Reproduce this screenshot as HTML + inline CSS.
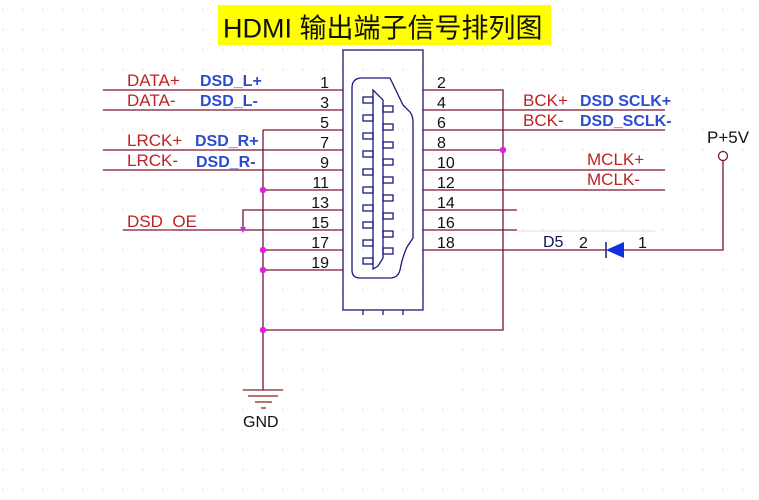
<!DOCTYPE html>
<html><head><meta charset="utf-8"><style>
html,body{margin:0;padding:0;background:#fff;}
svg{display:block;}
text{font-family:"Liberation Sans","Noto Sans CJK SC",sans-serif;}
.r{fill:#bf2222;font-size:17px;}
.b{fill:#2d4bd1;font-size:16px;font-weight:bold;}
.n{fill:#111;font-size:16px;}
.w{stroke:#7d1535;stroke-width:1.3;fill:none;}
.c{stroke:#1a1a7a;stroke-width:1.3;fill:none;}
</style></head><body>
<svg width="759" height="500" viewBox="0 0 759 500" xmlns="http://www.w3.org/2000/svg">
<defs>
<pattern id="g" x="2" y="9" width="20" height="20" patternUnits="userSpaceOnUse">
<rect x="0" y="0" width="1.5" height="1.5" fill="#e2e2e2"/>
</pattern>
</defs>
<rect width="759" height="500" fill="#fff"/>
<rect width="759" height="500" fill="url(#g)"/>
<rect x="330" y="330" width="130" height="75" fill="#fff"/>

<!-- title -->
<rect x="218" y="5" width="333" height="40" fill="#ffff00"/>
<text x="223" y="37.5" font-size="27" fill="#111">HDMI 输出端子信号排列图</text>

<!-- connector box -->
<rect x="343" y="50" width="80" height="260" fill="#fff" class="c"/>
<path class="c" d="M352,88 Q352,78 362,78 L390,78 L403,105 L410,112 Q413,116 413,122 L413,238 L407,247 Q402,258 400,270 Q398,278 390,278 L360,278 Q352,278 352,270 Z"/>
<path class="c" d="M373,269 L373,90 L383,100 L383,258 L378,266 Z"/>
<g class="c">
<rect x="363" y="97" width="10" height="6"/>
<rect x="363" y="115" width="10" height="6"/>
<rect x="363" y="133" width="10" height="6"/>
<rect x="363" y="151" width="10" height="6"/>
<rect x="363" y="169" width="10" height="6"/>
<rect x="363" y="187" width="10" height="6"/>
<rect x="363" y="205" width="10" height="6"/>
<rect x="363" y="222" width="10" height="6"/>
<rect x="363" y="240" width="10" height="6"/>
<rect x="363" y="258" width="10" height="6"/>
<rect x="383" y="106" width="10" height="6"/>
<rect x="383" y="124" width="10" height="6"/>
<rect x="383" y="142" width="10" height="6"/>
<rect x="383" y="159" width="10" height="6"/>
<rect x="383" y="177" width="10" height="6"/>
<rect x="383" y="195" width="10" height="6"/>
<rect x="383" y="213" width="10" height="6"/>
<rect x="383" y="231" width="10" height="6"/>
<rect x="383" y="248" width="10" height="6"/>
<path d="M363,310 V315 M383,310 V315 M403,310 V315"/>
</g>

<!-- left wires -->
<g class="w">
<path d="M103,90 H343 M103,110 H343 M263,130 H343 M103,150 H343 M103,170 H343 M263,190 H343 M243,230 V210 H343 M123,230 H343 M263,250 H343 M263,270 H343"/>
<path d="M263,130 V390"/>
<path d="M263,330 H503 V90 H423"/>
<!-- right wires -->
<path d="M423,110 H665 M423,130 H665 M423,150 H503 M423,170 H665 M423,190 H665 M423,210 H517 M423,230 H517 M423,250 H606 M624,250 H723 V161"/>
</g>
<path d="M517,231 H655" stroke="#f3d8dc" stroke-width="1"/>
<path d="M350,330 H405" stroke="#333" stroke-width="1" stroke-dasharray="3,4"/>

<!-- junctions -->
<g fill="#e020e0">
<circle cx="263" cy="190" r="3.2"/>
<circle cx="263" cy="250" r="3.2"/>
<circle cx="263" cy="270" r="3.2"/>
<circle cx="263" cy="330" r="3.2"/>
<circle cx="503" cy="150" r="3.2"/>
<path d="M240,227 L246,227 L243,233 Z"/>
</g>

<!-- ground -->
<g stroke="#8b2020" stroke-width="1.3">
<path d="M243,390 H283 M248,396 H278 M255,402 H272 M261,408 H266"/>
</g>
<text x="243" y="427" class="n">GND</text>

<!-- power -->
<circle cx="723" cy="156" r="4.5" fill="#fff" stroke="#7d1535" stroke-width="1.3"/>
<text x="707" y="143" class="n" style="font-size:17px">P+5V</text>

<!-- diode -->
<path d="M606,250 L624,242 L624,258 Z" fill="#1030e0"/>
<path d="M606,242 V258" stroke="#1a1a7a" stroke-width="1.5"/>
<text x="543" y="247" class="n" style="fill:#141454">D5</text>
<text x="579" y="248" class="n">2</text>
<text x="638" y="248" class="n">1</text>

<!-- left labels -->
<text x="127" y="86" class="r">DATA+</text>
<text x="200" y="86" class="b">DSD_L+</text>
<text x="127" y="106" class="r">DATA-</text>
<text x="200" y="106" class="b">DSD_L-</text>
<text x="127" y="146" class="r">LRCK+</text>
<text x="195" y="146" class="b">DSD_R+</text>
<text x="127" y="166" class="r">LRCK-</text>
<text x="196" y="167" class="b">DSD_R-</text>
<text x="127" y="227" class="r">DSD_OE</text>

<!-- right labels -->
<text x="523" y="106" class="r">BCK+</text>
<text x="580" y="106" class="b">DSD SCLK+</text>
<text x="523" y="126" class="r">BCK-</text>
<text x="580" y="126" class="b">DSD_SCLK-</text>
<text x="587" y="165" class="r">MCLK+</text>
<text x="587" y="185" class="r">MCLK-</text>

<!-- pin numbers -->
<g class="n" text-anchor="end">
<text x="329" y="88">1</text>
<text x="329" y="108">3</text>
<text x="329" y="128">5</text>
<text x="329" y="148">7</text>
<text x="329" y="168">9</text>
<text x="329" y="188">11</text>
<text x="329" y="208">13</text>
<text x="329" y="228">15</text>
<text x="329" y="248">17</text>
<text x="329" y="268">19</text>
</g>
<g class="n">
<text x="437" y="88">2</text>
<text x="437" y="108">4</text>
<text x="437" y="128">6</text>
<text x="437" y="148">8</text>
<text x="437" y="168">10</text>
<text x="437" y="188">12</text>
<text x="437" y="208">14</text>
<text x="437" y="228">16</text>
<text x="437" y="248">18</text>
</g>
</svg>
</body></html>
